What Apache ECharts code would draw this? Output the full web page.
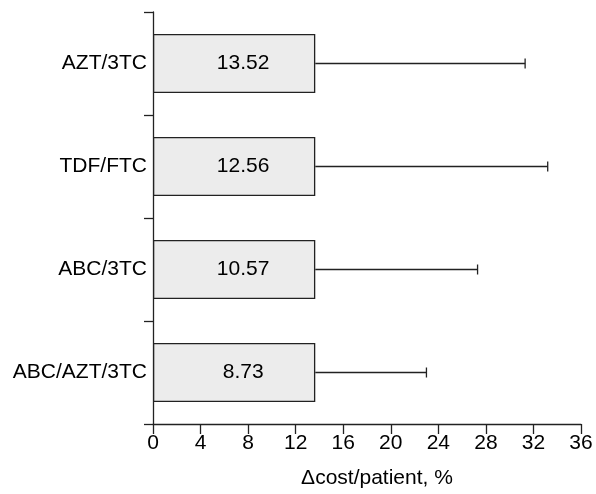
<!DOCTYPE html>
<html>
<head>
<meta charset="utf-8">
<script src="https://cdn.jsdelivr.net/npm/echarts@6/dist/echarts.min.js"></script>
<style>
  html, body { margin: 0; padding: 0; background: #fff; }
  #chart { width: 596px; height: 494px; }
</style>
</head>
<body>
<div id="chart"></div>
<script>
// regimens, top to bottom
const categories = ['AZT/3TC', 'TDF/FTC', 'ABC/3TC', 'ABC/AZT/3TC'];
// bar lengths as drawn (all bars reach the same point)
const barValues = [13.65, 13.65, 13.65, 13.65];
// printed values inside the bars
const barLabels = ['13.52', '12.56', '10.57', '8.73'];
// right end of each error whisker
const upperValues = [31.3, 33.2, 27.3, 23.0];
const xTicks = { min: 0, max: 36, interval: 4 };

const font = '"Liberation Sans", Arial, Helvetica, sans-serif';
const ink = '#222';
const fs = 21;

let myChart = echarts.init(document.getElementById('chart'));

myChart.setOption({
    animation: false,
    textStyle: { fontFamily: font },
    grid: { left: 153, right: 15, top: 12, bottom: 69 },
    xAxis: {
        type: 'value',
        min: xTicks.min,
        max: xTicks.max,
        interval: xTicks.interval,
        name: 'Δcost/patient, %',
        nameLocation: 'middle',
        nameGap: 44,
        nameTextStyle: { color: '#000', fontSize: fs, fontFamily: font, padding: [0, 0, 0, 20] },
        axisLine: { show: true, lineStyle: { color: ink, width: 1.3 } },
        axisTick: { show: true, length: 10, lineStyle: { color: ink, width: 1.3 } },
        axisLabel: { color: '#000', fontSize: fs, fontFamily: font, margin: 9 },
        splitLine: { show: false }
    },
    yAxis: {
        type: 'category',
        inverse: true,
        data: categories,
        axisLine: { show: true, lineStyle: { color: ink, width: 1.3 } },
        axisTick: { show: true, length: 9, alignWithLabel: false, lineStyle: { color: ink, width: 1.3 } },
        axisLabel: { color: '#000', fontSize: fs, fontFamily: font, margin: 6 }
    },
    series: [
        {
            type: 'bar',
            barWidth: 59,
            data: barValues,
            itemStyle: { color: '#ececec', borderColor: ink, borderWidth: 1.3 },
            label: {
                show: true,
                position: 'inside',
                offset: [9, 0],
                color: '#000',
                fontSize: fs,
                fontFamily: font,
                formatter: function (p) { return barLabels[p.dataIndex]; }
            },
            z: 2
        },
        {
            // error whiskers from bar end to upper value
            type: 'custom',
            data: categories.map((c, i) => [barValues[i], i, upperValues[i]]),
            encode: { x: [0, 2], y: 1 },
            renderItem: function (params, api) {
                let start = api.coord([api.value(0), api.value(1)]);
                let end = api.coord([api.value(2), api.value(1)]);
                let style = { stroke: ink, lineWidth: 1.3 };
                return {
                    type: 'group',
                    children: [
                        { type: 'line', shape: { x1: start[0], y1: start[1], x2: end[0], y2: end[1] }, style: style },
                        { type: 'line', shape: { x1: end[0], y1: end[1] - 5, x2: end[0], y2: end[1] + 5 }, style: style }
                    ]
                };
            },
            z: 3
        }
    ]
});
</script>
</body>
</html>
